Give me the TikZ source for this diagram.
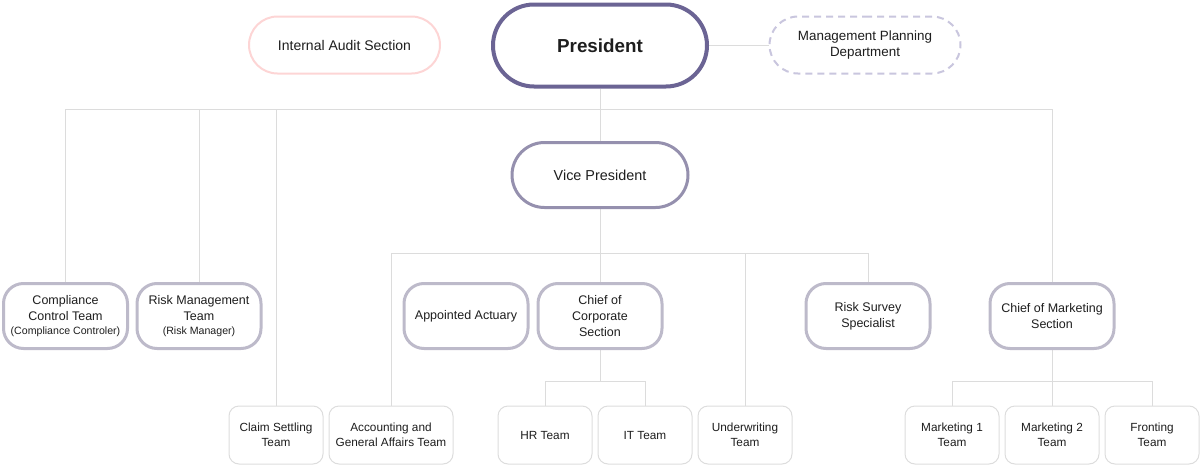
\documentclass[tikz,border=0pt]{standalone}
\usepackage{fontspec}
\setmainfont{Liberation Sans}
\usetikzlibrary{shapes.misc,backgrounds}
\definecolor{presc}{HTML}{6B6494}
\definecolor{vpc}{HTML}{9590AE}
\definecolor{midc}{HTML}{BDBACA}
\definecolor{lowc}{HTML}{DDDDDD}
\definecolor{auditc}{HTML}{FDD5D5}
\definecolor{mgmtc}{HTML}{C9C6DE}
\definecolor{linec}{HTML}{DCDCDC}
\definecolor{txt}{HTML}{1E1E1E}
\tikzset{
  base/.style={align=center, text=txt, font=\fontsize{12.5}{16}\selectfont, fill=white, inner sep=0pt},
  presbox/.style={base, rounded rectangle, draw=presc, line width=4pt, minimum width=214pt, minimum height=82pt, font=\bfseries\fontsize{18.8}{22}\selectfont},
  vpbox/.style={base, rounded rectangle, draw=vpc, line width=3pt, minimum width=176pt, minimum height=65pt, font=\fontsize{14.4}{17}\selectfont},
  auditbox/.style={base, rounded rectangle, draw=auditc, line width=2pt, minimum width=191pt, minimum height=57pt, font=\fontsize{14}{17}\selectfont},
  mgmtbox/.style={base, rounded rectangle, draw=mgmtc, line width=2pt, dashed, dash pattern=on 7pt off 5pt, minimum width=191pt, minimum height=57pt, font=\fontsize{13.4}{16.5}\selectfont},
  midbox/.style={base, rectangle, rounded corners=20pt, draw=midc, line width=3pt, minimum width=124pt, minimum height=65pt},
  lowbox/.style={base, rectangle, rounded corners=10pt, draw=lowc, line width=1pt, minimum width=94pt, minimum height=58pt, font=\fontsize{11.8}{15.5}\selectfont},
  conn/.style={draw=linec, line width=1pt}
}
\begin{document}
\begin{tikzpicture}[x=1pt,y=-1pt]
\useasboundingbox (0,0) rectangle (1200,466);
% junction coordinates
\coordinate (hA) at (65.5,109);
\coordinate (hB) at (1052,109);
\coordinate (h2L) at (391,253);
\coordinate (h2R) at (868,253);
\coordinate (cL) at (545,381);
\coordinate (cR) at (645,381);
\coordinate (mL) at (952,381);
\coordinate (mR) at (1152,381);

% nodes
\node[presbox] (pres) at (600,45.5) {President};
\node[auditbox] (audit) at (344.5,45) {Internal Audit Section};
\node[mgmtbox] (mgmt) at (865,45) {Management Planning\\Department};
\node[vpbox] (vp) at (600,175) {Vice President};

\node[midbox] (comp) at (65.5,316) {Compliance\\Control Team\\[-2pt]{\fontsize{10.6}{12}\selectfont(Compliance Controler)}};
\node[midbox] (risk) at (199,316) {Risk Management\\Team\\[-2pt]{\fontsize{10.6}{12}\selectfont(Risk Manager)}};
\node[midbox] (actu) at (466,316) {Appointed Actuary};
\node[midbox] (corp) at (600,316) {Chief of\\Corporate\\Section};
\node[midbox] (surv) at (868,316) {Risk Survey\\Specialist};
\node[midbox] (mkt) at (1052,316) {Chief of Marketing\\Section};

\node[lowbox] (claim) at (276,435) {Claim Settling\\Team};
\node[lowbox, minimum width=124pt] (acc) at (391,435) {Accounting and\\General Affairs Team};
\node[lowbox] (hr) at (545,435) {HR Team};
\node[lowbox] (it) at (645,435) {IT Team};
\node[lowbox] (uw) at (745,435) {Underwriting\\Team};
\node[lowbox] (m1) at (952,435) {Marketing 1\\Team};
\node[lowbox] (m2) at (1052,435) {Marketing 2\\Team};
\node[lowbox] (fr) at (1152,435) {Fronting\\Team};

% connectors
\begin{scope}[on background layer]
\draw[conn] (pres.east |- mgmt.west) -- (mgmt.west);
\draw[conn] (pres.south) -- (vp.north);
\draw[conn] (comp.north) -- (hA) -- (hB) -- (mkt.north);
\draw[conn] (risk.north) -- (risk.north |- hA);
\draw[conn] (claim.north) -- (claim.north |- hA);
\draw[conn] (vp.south) -- (corp.north);
\draw[conn] (acc.north) -- (h2L) -- (h2R) -- (surv.north);
\draw[conn] (uw.north) -- (uw.north |- h2L);
\draw[conn] (corp.south) -- (corp.south |- cL);
\draw[conn] (hr.north) -- (cL) -- (cR) -- (it.north);
\draw[conn] (mkt.south) -- (m2.north);
\draw[conn] (m1.north) -- (mL) -- (mR) -- (fr.north);
\end{scope}
\end{tikzpicture}
\end{document}
